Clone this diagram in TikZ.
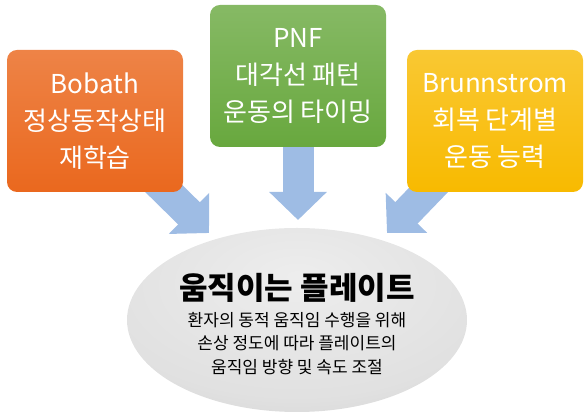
\documentclass[tikz,border=0pt]{standalone}
\usepackage{fontspec}
\setmainfont{Noto Sans CJK KR}
\definecolor{BobathOrange}{RGB}{234,104,30}
\definecolor{PnfGreen}{RGB}{104,168,62}
\definecolor{BrunnYellow}{RGB}{248,186,0}
\definecolor{PushBlue}{RGB}{158,188,228}
\usetikzlibrary{arrows.meta,backgrounds,shapes.geometric}
\pgfdeclareradialshading{plateshade}{\pgfpoint{0bp}{12bp}}{color(0bp)=(gray!14); color(30bp)=(gray!24); color(52bp)=(gray!44); color(100bp)=(gray!44)}

\begin{document}
\begin{tikzpicture}[x=1pt,y=1pt,
    method/.style={rounded corners=10pt,minimum width=176pt,minimum height=142pt,
                   text=white,align=center,font=\fontsize{26}{37}\selectfont},
    plate/.style={ellipse,shading=plateshade,minimum width=340pt,minimum height=184pt,
                  align=center,font=\fontsize{17}{23.5}\selectfont,inner sep=0pt},
    push/.style={PushBlue,line width=31pt,-{Triangle[length=28pt,width=56pt]}}]
    \useasboundingbox (0,0) rectangle (586,414);
    \node[method,top color=BobathOrange!82!white,bottom color=BobathOrange] (bobath) at (95,293) {Bobath\\정상동작상태\\재학습};
    \node[method,top color=PnfGreen!80!white,bottom color=PnfGreen] (pnf) at (298,338) {PNF\\대각선 패턴\\운동의 타이밍};
    \node[method,top color=BrunnYellow!80!white,bottom color=BrunnYellow] (brunn) at (495,293) {Brunnstrom\\회복 단계별\\운동 능력};
    \node[plate] (movplate) at (297,94) {};
    \node[align=center,font=\fontsize{17}{23.5}\selectfont] (platetext) at (297,90) {{\fontsize{31}{32}\selectfont\bfseries 움직이는 플레이트}\\[3pt]환자의 동적 움직임 수행을 위해\\손상 정도에 따라 플레이트의\\움직임 방향 및 속도 조절};
    \coordinate (lefttip) at (209,181);
    \coordinate (midtip) at (298,194);
    \coordinate (righttip) at (387,181);
    \begin{scope}[on background layer]
      \draw[push] (bobath.center) -- (lefttip);
      \draw[push] (pnf.center) -- (midtip);
      \draw[push] (brunn.center) -- (righttip);
    \end{scope}
  \end{tikzpicture}
\end{document}
